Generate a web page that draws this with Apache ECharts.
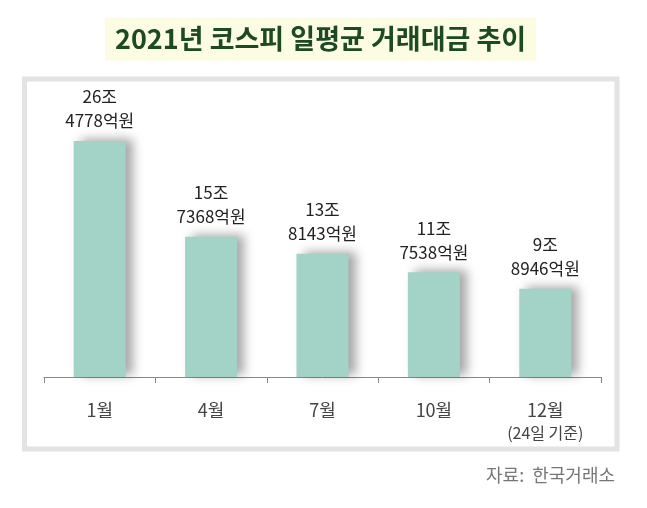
<!DOCTYPE html>
<html>
<head>
<meta charset="utf-8">
<script src="https://cdn.jsdelivr.net/npm/echarts@6/dist/echarts.min.js"></script>
<style>
  html, body { margin: 0; padding: 0; background: #fff; }
  #chart { width: 647px; height: 508px; }
</style>
</head>
<body>
<div id="chart"></div>
<script>
// 월별 일평균 거래대금 (조 + 억원)
var months = ["1월", "4월", "7월", "10월", "12월"];
var joPart = [26, 15, 13, 11, 9];
var eokPart = [4778, 7368, 8143, 7538, 8946];
var values = [26.4778, 15.7368, 13.8143, 11.7538, 9.8946];

var FONT = "'Noto Sans CJK KR', 'Noto Sans', sans-serif";

var chart = echarts.init(document.getElementById("chart"));

var option = {
  backgroundColor: "#fff",
  animation: false,
  title: {
    text: "2021년 코스피 일평균 거래대금 추이",
    left: 105,
    top: 18,
    padding: [8, 10, 8, 10],
    backgroundColor: "#fbfce2",
    textStyle: {
      fontFamily: FONT,
      fontSize: 27,
      lineHeight: 26,
      fontWeight: "bold",
      color: "#1d4a22"
    }
  },
  graphic: [
    {
      type: "rect",
      shape: { x: 24.5, y: 79, width: 592.5, height: 370 },
      style: { fill: "#fff", stroke: "#e3e3e3", lineWidth: 5 },
      z: -1
    },
    {
      type: "text",
      right: 32,
      top: 466,
      style: {
        text: "자료:  한국거래소",
        font: "18px " + FONT,
        fill: "#777"
      }
    }
  ],
  grid: {
    left: 44,
    right: 46,
    top: 109.6,
    bottom: 131
  },
  xAxis: {
    type: "category",
    data: months,
    axisLine: { lineStyle: { color: "#888", width: 1 } },
    axisTick: { show: true, length: 6, lineStyle: { color: "#888" } },
    axisLabel: {
      interval: 0,
      margin: 21,
      fontFamily: FONT,
      fontSize: 18,
      color: "#444",
      formatter: function (val) {
        if (val === "12월") {
          return "{a|" + val + "}\n{b|(24일 기준)}";
        }
        return "{a|" + val + "}";
      },
      rich: {
        a: { fontFamily: FONT, fontSize: 18, color: "#444", lineHeight: 24 },
        b: { fontFamily: FONT, fontSize: 16, color: "#444", lineHeight: 22 }
      }
    }
  },
  yAxis: {
    type: "value",
    min: 0,
    max: 30,
    show: false,
    splitLine: { show: false }
  },
  series: [
    {
      type: "bar",
      data: values,
      barWidth: 52,
      itemStyle: {
        color: "#a3d2c6",
        shadowColor: "rgba(0,0,0,0.35)",
        shadowBlur: 10,
        shadowOffsetX: 7,
        shadowOffsetY: -2
      },
      label: {
        show: true,
        position: "top",
        distance: 8,
        fontFamily: FONT,
        fontSize: 17,
        lineHeight: 24,
        color: "#222",
        align: "center",
        formatter: function (p) {
          return joPart[p.dataIndex] + "조\n" + eokPart[p.dataIndex] + "억원";
        }
      }
    }
  ]
};

chart.setOption(option);
</script>
</body>
</html>
